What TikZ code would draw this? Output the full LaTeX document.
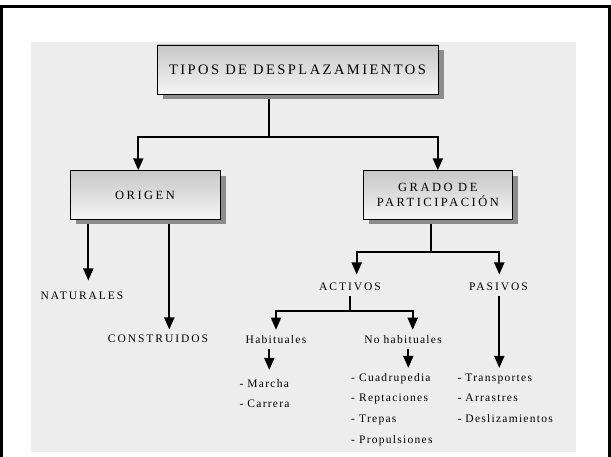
\documentclass[tikz,border=0pt]{standalone}
\usepackage{fontspec}
\setmainfont{Liberation Serif}
\newfontfamily\titlefont[LetterSpace=17]{Liberation Serif}
\newfontfamily\boxfont[LetterSpace=20]{Liberation Serif}
\newfontfamily\capsfont[LetterSpace=17]{Liberation Serif}
\newfontfamily\lowfont[LetterSpace=11]{Liberation Serif}
\usetikzlibrary{arrows.meta,shadows,backgrounds}

\begin{document}
\begin{tikzpicture}[x=1pt, y=-1pt,
  box/.style={draw, line width=0.9pt, top color=black!22, bottom color=black!4,
    drop shadow={shadow xshift=6pt, shadow yshift=-5pt, fill=black!45, opacity=1},
    align=center, text=black, font=\boxfont\fontsize{12.5pt}{15.5pt}\selectfont},
  caps/.style={inner sep=0pt, text height=7.6pt, text depth=0pt, text=black,
    font=\capsfont\fontsize{11.5pt}{13pt}\selectfont},
  sub/.style={inner sep=0pt, text height=7.9pt, text depth=0pt, text=black,
    font=\lowfont\fontsize{11.5pt}{13pt}\selectfont},
  item/.style={sub, anchor=west},
  wire/.style={line width=1.8pt},
  link/.style={wire, -{Triangle[width=10pt,length=12pt]}}]

  \useasboundingbox (0,0) rectangle (611,457);
  \begin{scope}[on background layer]
    \fill[black!7] (31,42) rectangle (576,452);
  \end{scope}
  \draw[line width=3pt] (1.5,457) -- (1.5,7) -- (609,7) -- (609,457);

  % boxes
  \node[box, minimum width=281pt, minimum height=49pt, font=\titlefont\fontsize{14.5pt}{16pt}\selectfont]
    (tipos) at (297.5,69.5) {TIPOS DE DESPLAZAMIENTOS};
  \node[box, minimum width=150pt, minimum height=48.5pt] (origen) at (145,195) {ORIGEN};
  \node[box, minimum width=149pt, minimum height=48.5pt] (grado) at (437.8,195) {GRADO DE\\PARTICIPACIÓN};

  % labels
  \node[caps] (naturales) at (82,296) {NATURALES};
  \node[caps] (construidos) at (158,339) {CONSTRUIDOS};
  \node[caps] (activos) at (350,287) {ACTIVOS};
  \node[caps] (pasivos) at (498.5,287) {PASIVOS};
  \node[sub] (habituales) at (276,340) {Habituales};
  \node[sub] (nohabituales) at (403,340) {No habituales};

  % items
  \node[item] (marcha) at (239.3,383.5) {- Marcha};
  \node[item] (carrera) at (239.3,403.5) {- Carrera};
  \node[item] (cuadrupedia) at (351,378) {- Cuadrupedia};
  \node[item] (reptaciones) at (351,398) {- Reptaciones};
  \node[item] (trepas) at (351,419) {- Trepas};
  \node[item] (propulsiones) at (351,439.5) {- Propulsiones};
  \node[item] (transportes) at (457.3,378) {- Transportes};
  \node[item] (arrastres) at (457.3,398) {- Arrastres};
  \node[item] (deslizamientos) at (457.3,419) {- Deslizamientos};

  \coordinate (fork1) at (269,137);
  \coordinate (fork2) at (431,252.3);
  \coordinate (fork3) at (350,310.7);

  \begin{scope}[on background layer]
    \draw[wire] (tipos.south -| fork1) -- (fork1);
    \draw[link] (fork1) -| ([xshift=-6.7pt]origen.north);
    \draw[link] (fork1) -| (grado.north);

    \draw[link] ([xshift=-56.7pt]origen.south) -- ([xshift=6.3pt,yshift=11.5pt]naturales.north);
    \draw[link] ([xshift=24.3pt]origen.south) -- ([xshift=11.3pt,yshift=5.5pt]construidos.north);

    \draw[wire] (grado.south -| fork2) -- (fork2);
    \draw[link] (fork2) -| ([xshift=6.7pt,yshift=8.5pt]activos.north);
    \draw[link] (fork2) -| ([xshift=0.8pt,yshift=8.5pt]pasivos.north);

    \draw[wire] ([yshift=-5.2pt]activos.south) -- (fork3);
    \draw[link] (fork3) -| ([yshift=6.1pt]habituales.north);
    \draw[link] (fork3) -| ([xshift=9.7pt,yshift=6.1pt]nohabituales.north);

    \draw[link] ([xshift=-6.7pt,yshift=-5.1pt]habituales.south) -- ([xshift=30pt,yshift=13.6pt]marcha.west);
    \draw[link] ([xshift=5.3pt,yshift=-5.1pt]nohabituales.south) -- ([xshift=57.3pt,yshift=10.1pt]cuadrupedia.west);
    \draw[link] ([xshift=0.8pt,yshift=-5.2pt]pasivos.south) -- ([xshift=42pt,yshift=10.1pt]transportes.west);
  \end{scope}
\end{tikzpicture}
\end{document}
